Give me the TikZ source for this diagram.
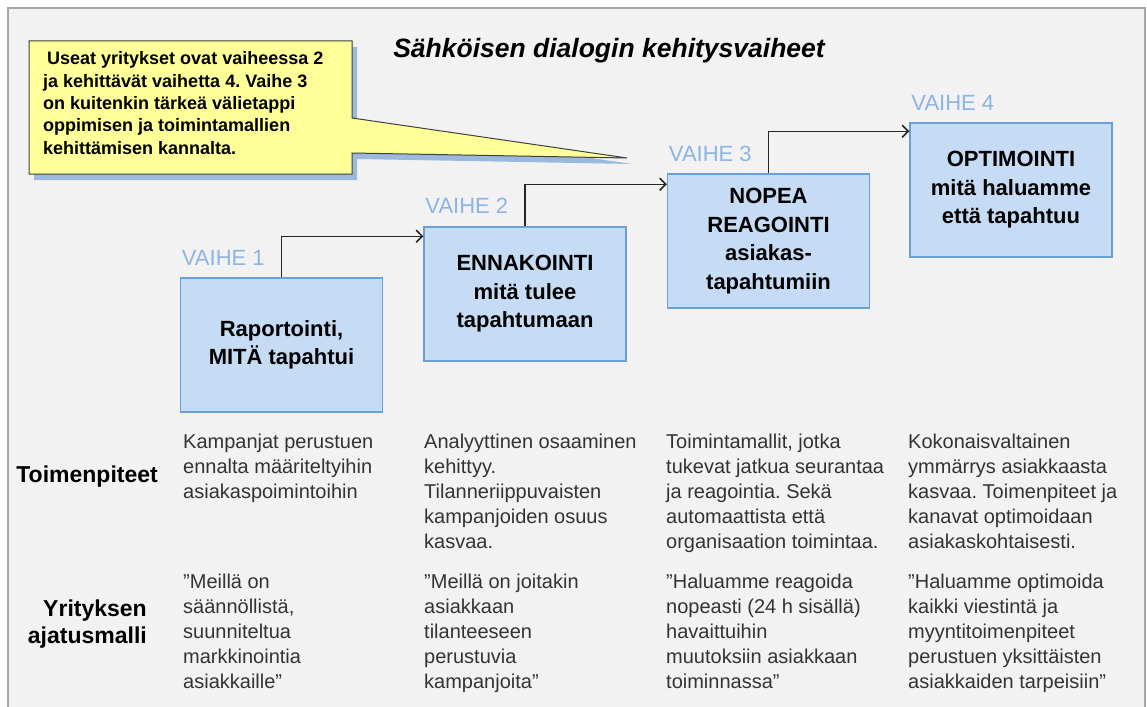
\documentclass[tikz,border=0pt]{standalone}
\usepackage{fontspec}
\setmainfont{Liberation Sans}
\usetikzlibrary{arrows.meta,positioning}
\definecolor{framegray}{HTML}{A6A6A6}
\definecolor{pagegray}{HTML}{F2F2F2}
\definecolor{stagefill}{HTML}{C6DCF4}
\definecolor{stageline}{HTML}{6A9FDA}
\definecolor{vaihecol}{HTML}{8DB4E2}
\definecolor{notefill}{HTML}{FFFF99}
\definecolor{noteshadow}{HTML}{9BB9DD}
\definecolor{bodytext}{HTML}{333333}
\frenchspacing
\tikzset{
  stagebox/.style={draw=stageline, line width=1.5pt, fill=stagefill, minimum width=202pt, minimum height=134pt, inner sep=2pt, align=center, font=\bfseries\fontsize{22}{28.5}\selectfont},
  stagelabel/.style={anchor=base west, inner sep=0pt, text=vaihecol, font=\fontsize{22}{26}\selectfont},
  stagearrow/.style={-{Straight Barb[length=6pt,width=12pt]}, line width=1.5pt, draw=black!85},
  coltext/.style={anchor=base west, align=left, inner sep=0pt, text=bodytext, font=\fontsize{20}{25}\selectfont},
  rowlabel/.style={anchor=base east, align=right, inner sep=0pt, font=\bfseries\fontsize{23}{27}\selectfont},
  notetext/.style={anchor=base west, align=left, inner sep=0pt, font=\bfseries\fontsize{18}{22.3}\selectfont}
}
% multi-line nodes sit on the baseline of their last line
\def\notepath{(29,41) -- (352,41) -- (352,118) -- (627,158) -- (352,153) -- (352,174) -- (29,174) -- cycle}

\begin{document}
\begin{tikzpicture}[x=1pt,y=-1pt]
\useasboundingbox (0,0) rectangle (1147,706);
\begin{scope}
\clip (0,0) rectangle (1147,706);
\draw[framegray, line width=2pt, fill=pagegray] (8,8) rectangle (1145,720);
\end{scope}

\node[font=\bfseries\itshape\fontsize{26.5}{30}\selectfont, anchor=base, inner sep=0pt] (title) at (609,58) {Sähköisen dialogin kehitysvaiheet};

% callout
\fill[noteshadow, shift={(5,6)}] \notepath;
\draw[black!75, line width=1pt, fill=notefill] \notepath;
\node[notetext] (note) at (43,154) {\hspace{4pt}Useat yritykset ovat vaiheessa 2\\ja kehittävät vaihetta 4. Vaihe 3\\on kuitenkin tärkeä välietappi\\oppimisen ja toimintamallien\\kehittämisen kannalta.};

% stages
\node[stagebox] (b1) at (281.5,345) {Raportointi,\\MITÄ tapahtui};
\node[stagebox, right=40pt of b1, yshift=51pt] (b2) {ENNAKOINTI\\mitä tulee\\tapahtumaan};
\node[stagebox, right=40pt of b2, yshift=53pt] (b3) {NOPEA\\REAGOINTI\\asiakas-\\tapahtumiin};
\node[stagebox, right=39pt of b3, yshift=51pt] (b4) {OPTIMOINTI\\mitä haluamme\\että tapahtuu};

\node[stagelabel] (v1) at ([shift={(2,-12)}]b1.north west) {VAIHE 1};
\node[stagelabel] (v2) at ([shift={(2,-13)}]b2.north west) {VAIHE 2};
\node[stagelabel] (v3) at ([shift={(2,-12)}]b3.north west) {VAIHE 3};
\node[stagelabel] (v4) at ([shift={(2,-12)}]b4.north west) {VAIHE 4};

\draw[stagearrow] (b1.north) |- ([yshift=-10pt]b2.north west);
\draw[stagearrow] (b2.north) |- ([yshift=-11pt]b3.north west);
\draw[stagearrow] (b3.north) |- ([yshift=-9pt]b4.north west);

% rows
\node[rowlabel] (act) at (158,482) {Toimenpiteet};
\node[rowlabel] (mind) at (147,643) {Yrityksen\\ajatusmalli};

\node[coltext] (a1) at (183,498) {Kampanjat perustuen\\ennalta määriteltyihin\\asiakaspoimintoihin};
\node[coltext] (a2) at (424,548) {Analyyttinen osaaminen\\kehittyy.\\Tilanneriippuvaisten\\kampanjoiden osuus\\kasvaa.};
\node[coltext] (a3) at (666,548) {Toimintamallit, jotka\\tukevat jatkua seurantaa\\ja reagointia. Sekä\\automaattista että\\organisaation toimintaa.};
\node[coltext] (a4) at (908,548) {Kokonaisvaltainen\\ymmärrys asiakkaasta\\kasvaa. Toimenpiteet ja\\kanavat optimoidaan\\asiakaskohtaisesti.};

\node[coltext] (m1) at (183,688) {”Meillä on\\säännöllistä,\\suunniteltua\\markkinointia\\asiakkaille”};
\node[coltext] (m2) at (424,688) {”Meillä on joitakin\\asiakkaan\\tilanteeseen\\perustuvia\\kampanjoita”};
\node[coltext] (m3) at (666,688) {”Haluamme reagoida\\nopeasti (24 h sisällä)\\havaittuihin\\muutoksiin asiakkaan\\toiminnassa”};
\node[coltext] (m4) at (908,688) {”Haluamme optimoida\\kaikki viestintä ja\\myyntitoimenpiteet\\perustuen yksittäisten\\asiakkaiden tarpeisiin”};
\end{tikzpicture}
\end{document}
